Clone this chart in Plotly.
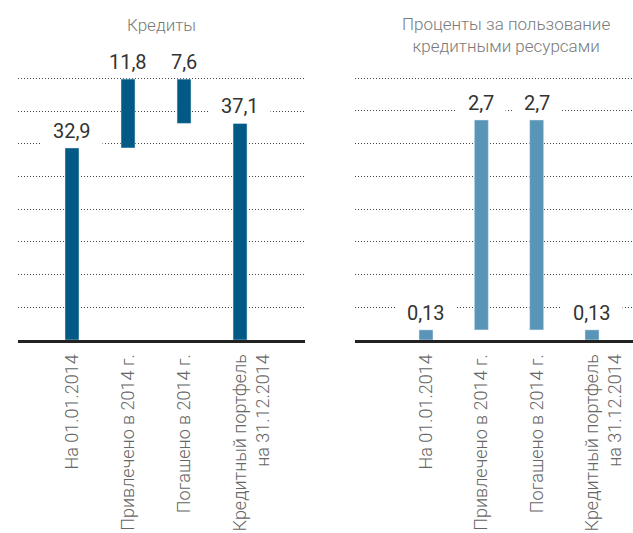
import plotly.graph_objects as go

categories = ["На 01.01.2014", "Привлечено в 2014 г.", "Погашено в 2014 г.",
              " <br>Кредитный портфель<br>на 31.12.2014"]
credits_start = 32.9
credits_in = 11.8
credits_out = 7.6
credits_end = 37.1
interest_start = 0.13
interest_in = 2.7
interest_out = 2.7
interest_end = 0.13

title_left = "Кредиты"
title_right = "Проценты за пользование<br>кредитными ресурсами"

def waterfall(start, inc, dec, end):
    vals = [start, inc, dec, end]
    bases = [0, start, start + inc - dec, 0]
    tops = [b + v for b, v in zip(bases, vals)]
    return vals, bases, tops

lv, lb, lt = waterfall(credits_start, credits_in, credits_out, credits_end)
rv, rb, rt = waterfall(interest_start, interest_in, interest_out, interest_end)

FONT = "Roboto"
W = 300
xs = list(range(len(categories)))
PAD = "\u00a0\u00a0"

fig = go.Figure()
fig.add_trace(go.Bar(x=xs, y=lv, base=lb, marker_color="#005a85", width=0.25,
                     xaxis="x", yaxis="y", showlegend=False, hoverinfo="skip"))
fig.add_trace(go.Bar(x=xs, y=rv, base=rb, marker_color="#5995b7", width=0.253,
                     xaxis="x2", yaxis="y2", showlegend=False, hoverinfo="skip"))

def fmt(v):
    return PAD + (f"{v:.2f}" if v < 1 else f"{v:.1f}").replace(".", ",") + PAD

ann = []
for i in xs:
    ann.append(dict(x=i, y=lt[i], xref="x", yref="y", text=fmt(lv[i]), showarrow=False,
                    yanchor="bottom", xanchor="center", yshift=3, bgcolor="white",
                    font=dict(family=FONT, size=20, color="#333333", weight=400)))
    ann.append(dict(x=i, y=rt[i], xref="x2", yref="y2", text=fmt(rv[i]), showarrow=False,
                    yanchor="bottom", xanchor="center", yshift=3, bgcolor="white",
                    font=dict(family=FONT, size=20, color="#333333", weight=400)))

ann.append(dict(x=(161.5 - 18) / 615, y=1, xref="paper", yref="paper", yshift=49,
                text=title_left, showarrow=False, yanchor="middle", xanchor="center",
                font=dict(family=FONT, size=17, color="#7a7a7a", weight=W)))
ann.append(dict(x=(506 - 18) / 615, y=1, xref="paper", yref="paper", yshift=39,
                text=title_right, showarrow=False, yanchor="middle", xanchor="center",
                font=dict(family=FONT, size=17, color="#7a7a7a", weight=W)))

xcommon = dict(tickmode="array", tickvals=xs, ticktext=categories, tickangle=-90,
               showgrid=False, zeroline=False, showline=True, linewidth=3,
               linecolor="#222222", ticks="", automargin=False, ticklabelstandoff=4,
               tickfont=dict(family=FONT, size=18, color="#666666", weight=W))
ycommon = dict(showticklabels=False, showgrid=True, gridcolor="#444444",
               griddash="1px,2px", gridwidth=1, zeroline=False, showline=False, ticks="",
               automargin=False)

fig.update_layout(
    width=633, height=533,
    margin=dict(l=18, r=0, t=74, b=193, autoexpand=False),
    paper_bgcolor="white", plot_bgcolor="white",
    xaxis=dict(domain=[0, 0.4667], range=[-0.964, 4.16], anchor="y", **xcommon),
    xaxis2=dict(domain=[0.548, 1], range=[-1.283, 3.741], anchor="y2", **xcommon),
    yaxis=dict(domain=[0, 1], range=[0, 45.57], tick0=0, dtick=5.6, anchor="x", **ycommon),
    yaxis2=dict(domain=[0, 1], range=[0, 3.4216], tick0=0, dtick=3.37 / 8, anchor="x2", **ycommon),
    annotations=ann,
    bargap=0,
)

fig.write_html("out.html", config={"displayModeBar": False, "staticPlot": True},
               post_script="document.body.style.margin='0';document.body.style.overflow='hidden';")
